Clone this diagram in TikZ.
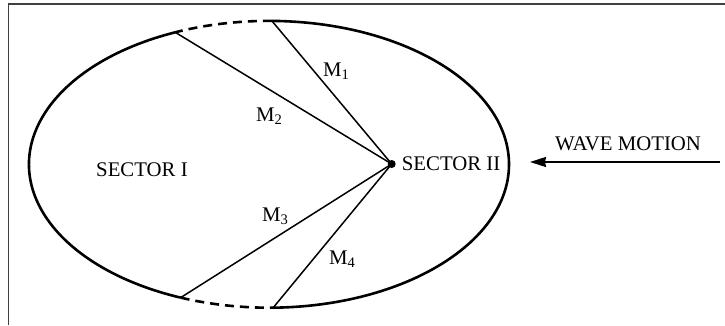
\documentclass[tikz,border=0pt]{standalone}
\usepackage{fontspec}
\setmainfont{Liberation Serif}
\usetikzlibrary{arrows.meta}
\begin{document}
\begin{tikzpicture}[x=1pt,y=1pt,
  frame/.style={line width=1.8pt,draw=black!75},
  ell/.style={line width=2.6pt},
  elldash/.style={line width=2.6pt,dash pattern=on 9pt off 6pt},
  ray/.style={line width=1.5pt},
  lbl/.style={anchor=base west,inner sep=0pt,font=\fontsize{20.8}{25}\selectfont},
  wave/.style={line width=1.6pt,-{Stealth[length=16pt,width=10pt,inset=1pt]}}]
\useasboundingbox (0,0) rectangle (725,325);
\draw[frame] (8.5,0) -- (8.5,321) -- (725,321);
\coordinate (c) at (269,160.7);
\path (c) ++(89.3:240pt and 143.4pt) coordinate (P1)
      (c) ++(113:240pt and 143.4pt) coordinate (P2)
      (c) ++(248.4:240pt and 143.4pt) coordinate (P3)
      (c) ++(271:240pt and 143.4pt) coordinate (P4);
\draw[ell] (P2) arc[start angle=113,end angle=248.4,x radius=240pt,y radius=143.4pt];
\draw[elldash] (P3) arc[start angle=248.4,end angle=271,x radius=240pt,y radius=143.4pt];
\draw[ell] (P4) arc[start angle=271,end angle=449.3,x radius=240pt,y radius=143.4pt];
\draw[elldash] (P1) arc[start angle=89.3,end angle=113,x radius=240pt,y radius=143.4pt];
\node[circle,fill=black,inner sep=0pt,minimum size=8pt] (dot) at (391.7,161) {};
\draw[ray] (dot.center) -- (P1);
\draw[ray] (dot.center) -- (P2);
\draw[ray] (dot.center) -- (P3);
\draw[ray] (dot.center) -- (P4);
\node[lbl] (m1) at (323,249) {M\textsubscript{1}};
\node[lbl] (m2) at (256,204) {M\textsubscript{2}};
\node[lbl] (m3) at (262,104) {M\textsubscript{3}};
\node[lbl] (m4) at (329,61) {M\textsubscript{4}};
\node[lbl] (s1) at (96,148.3) {SECTOR I};
\node[lbl] (s2) at (401.7,155) {SECTOR II};
\node[lbl] (wm) at (555,175) {WAVE MOTION};
\coordinate (wa) at (720,163);
\coordinate (wb) at (530,163);
\draw[wave] (wa) -- (wb);
\end{tikzpicture}
\end{document}
